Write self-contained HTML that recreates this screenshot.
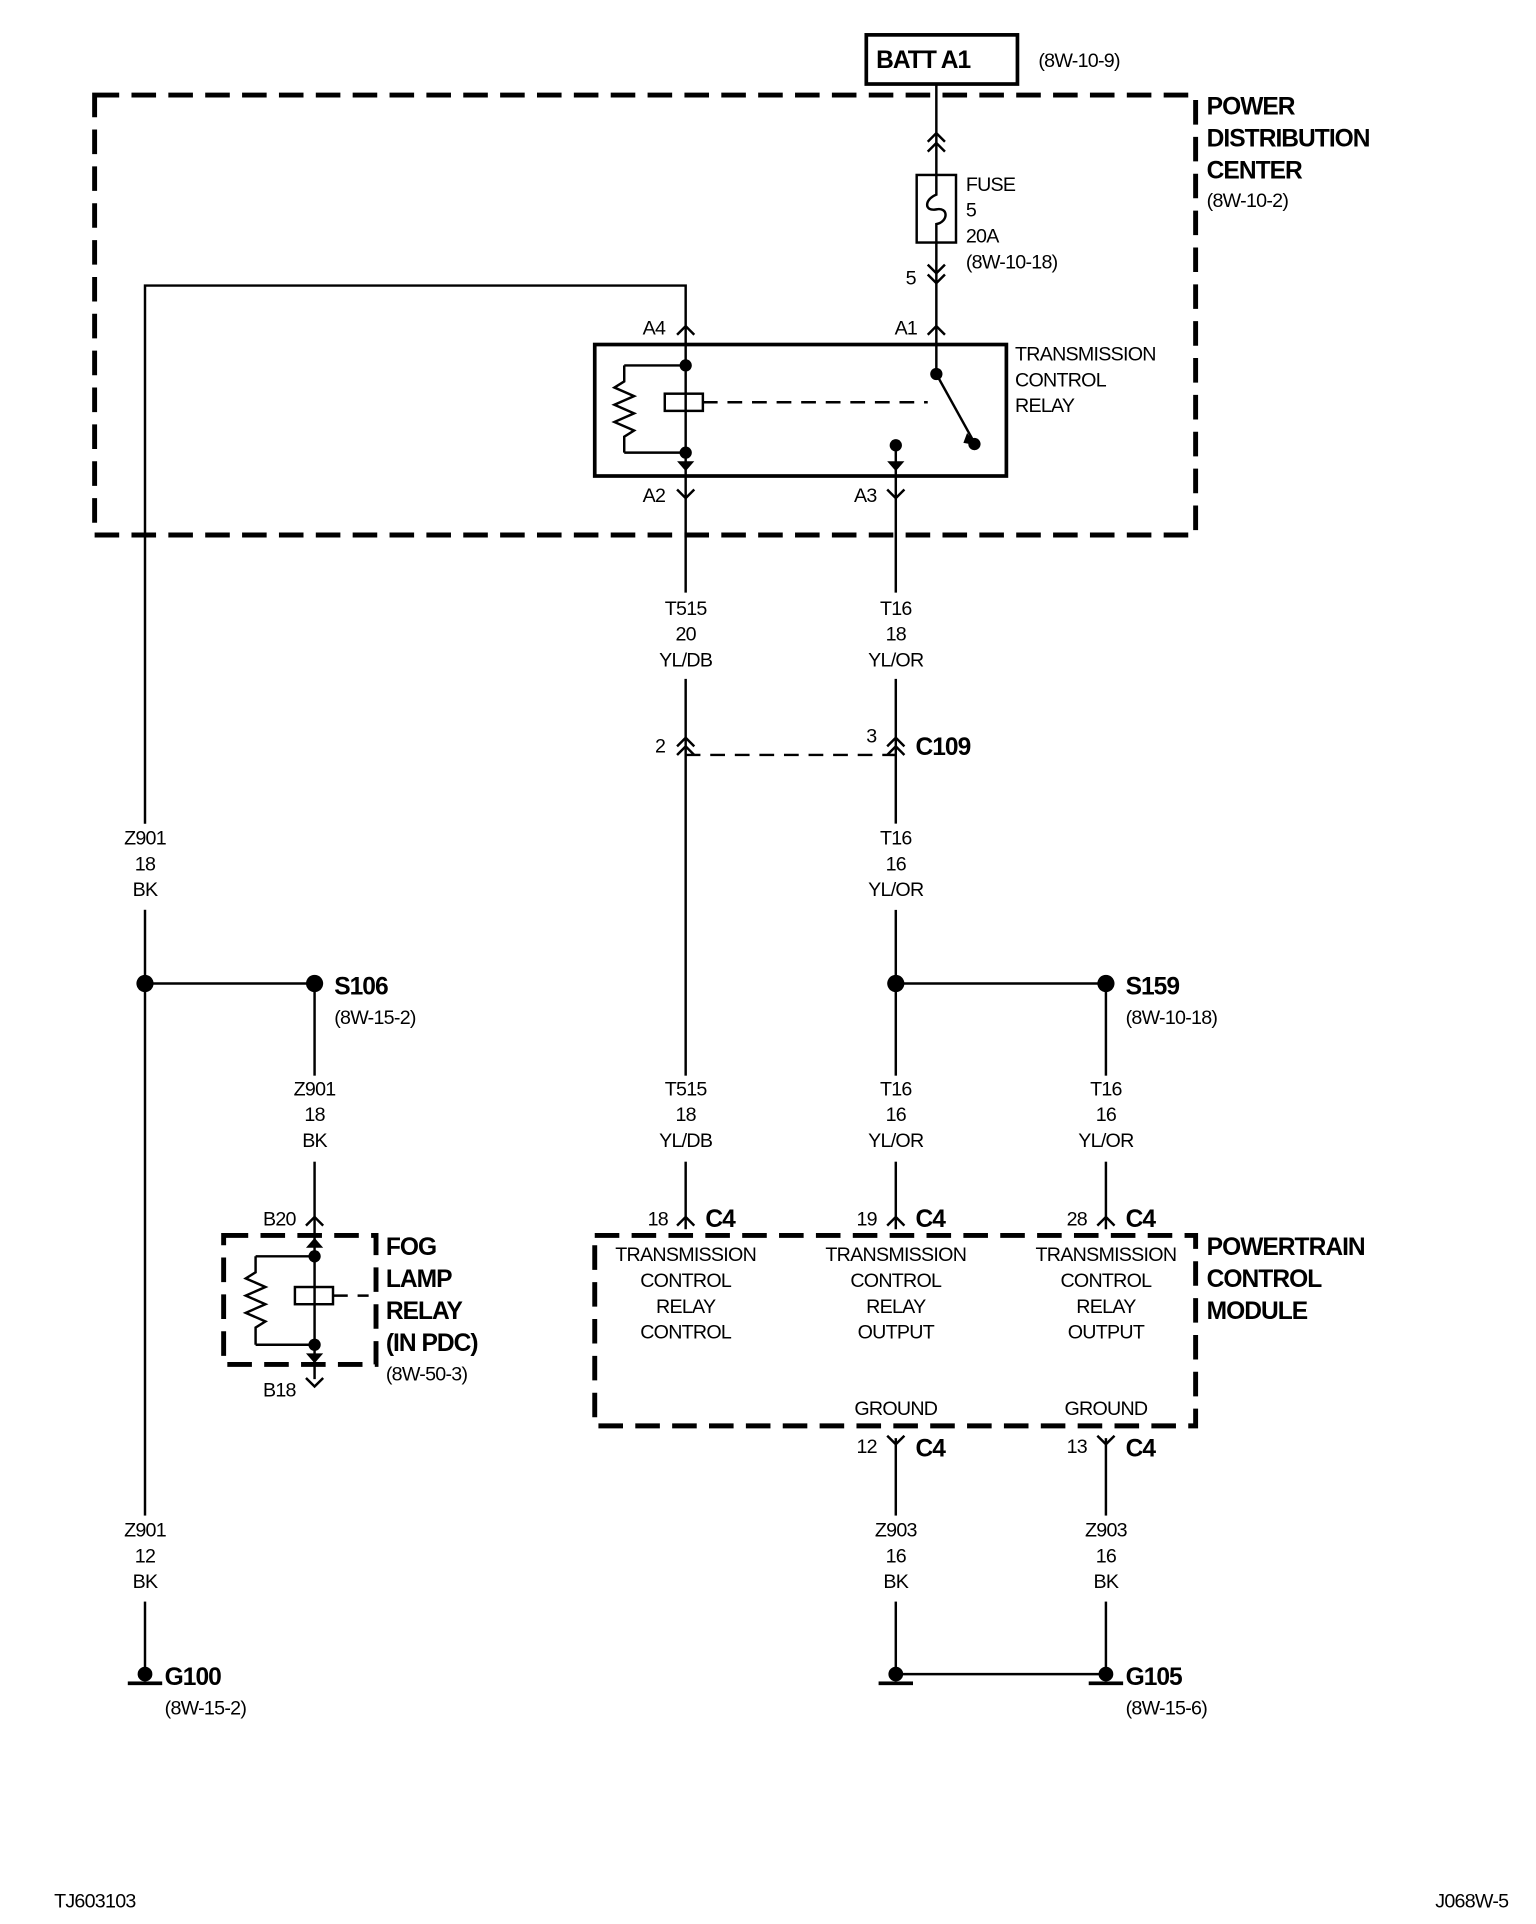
<!DOCTYPE html>
<html><head><meta charset="utf-8"><style>
html,body{margin:0;padding:0;background:#fff}
svg{display:block}
text{font-family:"Liberation Sans",Arial,sans-serif;fill:#000}
.s{font-size:16px;letter-spacing:-0.6px}
.b{font-size:20px;font-weight:bold;letter-spacing:-0.8px}
.c{text-anchor:middle}
</style></head><body>
<svg width="1536" height="1924" viewBox="0 0 1250 1565" xmlns="http://www.w3.org/2000/svg">
<defs>
<path id="up" d="M-7,7 L0,0 L7,7" fill="none" stroke="#000" stroke-width="2"/>
<path id="dn" d="M-7,-7 L0,0 L7,-7" fill="none" stroke="#000" stroke-width="2"/>
</defs>
<g fill="none" stroke="#000">
<rect x="705" y="28" width="123" height="40" stroke-width="3"/>
<rect x="77" y="77" width="896" height="358" stroke-width="4" stroke-dasharray="20,10"/>
<rect x="484" y="280" width="335" height="107" stroke-width="3"/>
<rect x="182" y="1005" width="124" height="105" stroke-width="4" stroke-dasharray="20,10"/>
<rect x="484" y="1005" width="489" height="155" stroke-width="4" stroke-dasharray="20,10"/>
<g stroke-width="2">
<path d="M762,68 V142 M762,197 V265 M762,265 V300"/>
<rect x="746" y="142" width="32" height="55"/>
<path d="M762,142 V158 C752,162 752,172 762,170 C772,168 772,180 762,182 V197"/>
<path d="M558,265 V232 H118 V1362"/>
<path d="M558,265 V398"/>
<path d="M508,297 H558 M508,368 H558 M508,297 V310 L500,315 L516,322 L500,329 L516,336 L500,343 L516,350 L508,355 V368"/>
<rect x="541" y="320" width="31" height="14"/>
<path d="M572,327 H755" stroke-dasharray="12,8"/>
<path d="M762,304 L793,360"/>
<path d="M729,362 V398"/>
<path d="M558,398 V482 M558,552 V1000 M729,398 V482 M729,552 V670 M729,740 V1000"/>
<path d="M118,800 H256 M729,800 H900 M256,800 V990 M900,800 V1000"/>
<path d="M729,1170 V1362 H900 V1170"/>
<path d="M256,990 V1122 M208,1022 H256 M208,1094 H256 M208,1022 V1035 L200,1040 L216,1047 L200,1054 L216,1061 L200,1068 L216,1075 L208,1080 V1094"/>
<rect x="240" y="1047" width="31" height="14"/>
<path d="M271,1054 H300" stroke-dasharray="12,8"/>
</g>
</g>
<g fill="#fff">
<rect x="540" y="482" width="40" height="70"/><rect x="710" y="482" width="40" height="70"/>
<rect x="710" y="670" width="40" height="70"/>
<rect x="95" y="670" width="45" height="70"/>
<rect x="235" y="875" width="45" height="70"/>
<rect x="535" y="875" width="45" height="70"/><rect x="705" y="875" width="45" height="70"/><rect x="880" y="875" width="45" height="70"/>
<rect x="95" y="1233" width="45" height="70"/><rect x="705" y="1233" width="45" height="70"/><rect x="880" y="1233" width="45" height="70"/>
</g>
<path d="M558,614 H729" stroke="#000" stroke-width="2" stroke-dasharray="12,8" fill="none"/>
<use href="#up" x="762" y="108"/><use href="#up" x="762" y="116"/>
<use href="#dn" x="762" y="222"/><use href="#dn" x="762" y="230"/>
<use href="#up" x="762" y="265"/><use href="#up" x="558" y="265"/>
<use href="#dn" x="558" y="405"/><use href="#dn" x="729" y="405"/>
<use href="#up" x="558" y="600"/><use href="#up" x="558" y="607"/>
<use href="#up" x="729" y="600"/><use href="#up" x="729" y="607"/>
<use href="#up" x="256" y="990"/><use href="#dn" x="256" y="1128"/>
<use href="#up" x="558" y="990"/><use href="#up" x="729" y="990"/><use href="#up" x="900" y="990"/>
<use href="#dn" x="729" y="1175"/><use href="#dn" x="900" y="1175"/>
<path d="M787,352 L795,362 L784,360Z"/>
<path d="M551,375 L558,383 L565,375Z M722,375 L729,383 L736,375Z M249,1101 L256,1109 L263,1101Z M249,1015 L256,1007 L263,1015Z"/>
<g>
<circle cx="558" cy="297" r="5"/><circle cx="558" cy="368" r="5"/>
<circle cx="762" cy="304" r="5"/><circle cx="793" cy="361" r="5"/><circle cx="729" cy="362" r="5"/>
<circle cx="256" cy="1022" r="5"/><circle cx="256" cy="1094" r="5"/>
<circle cx="118" cy="800" r="7"/><circle cx="256" cy="800" r="7"/>
<circle cx="729" cy="800" r="7"/><circle cx="900" cy="800" r="7"/>
<circle cx="118" cy="1362" r="6"/><circle cx="729" cy="1362" r="6"/><circle cx="900" cy="1362" r="6"/>
<rect x="104" y="1368" width="28" height="3"/><rect x="715" y="1368" width="28" height="3"/><rect x="886" y="1368" width="28" height="3"/>
</g>
<text x="713" y="55" class="b">BATT A1</text>
<text x="845" y="54" class="s">(8W-10-9)</text>
<text x="982" y="93" class="b">POWER</text><text x="982" y="119" class="b">DISTRIBUTION</text><text x="982" y="145" class="b">CENTER</text>
<text x="982" y="168" class="s">(8W-10-2)</text>
<text x="786" y="155" class="s">FUSE</text><text x="786" y="176" class="s">5</text><text x="786" y="197" class="s">20A</text><text x="786" y="218" class="s">(8W-10-18)</text>
<text x="737" y="231" class="s">5</text>
<text x="728" y="272" class="s">A1</text><text x="523" y="272" class="s">A4</text>
<text x="826" y="293" class="s">TRANSMISSION</text><text x="826" y="314" class="s">CONTROL</text><text x="826" y="335" class="s">RELAY</text>
<text x="523" y="408" class="s">A2</text><text x="695" y="408" class="s">A3</text>
<g class="s c">
<text x="558" y="500">T515</text><text x="558" y="521">20</text><text x="558" y="542">YL/DB</text>
<text x="729" y="500">T16</text><text x="729" y="521">18</text><text x="729" y="542">YL/OR</text>
<text x="729" y="687">T16</text><text x="729" y="708">16</text><text x="729" y="729">YL/OR</text>
<text x="118" y="687">Z901</text><text x="118" y="708">18</text><text x="118" y="729">BK</text>
<text x="256" y="891">Z901</text><text x="256" y="912">18</text><text x="256" y="933">BK</text>
<text x="558" y="891">T515</text><text x="558" y="912">18</text><text x="558" y="933">YL/DB</text>
<text x="729" y="891">T16</text><text x="729" y="912">16</text><text x="729" y="933">YL/OR</text>
<text x="900" y="891">T16</text><text x="900" y="912">16</text><text x="900" y="933">YL/OR</text>
<text x="558" y="1026">TRANSMISSION</text><text x="558" y="1047">CONTROL</text><text x="558" y="1068">RELAY</text><text x="558" y="1089">CONTROL</text>
<text x="729" y="1026">TRANSMISSION</text><text x="729" y="1047">CONTROL</text><text x="729" y="1068">RELAY</text><text x="729" y="1089">OUTPUT</text>
<text x="900" y="1026">TRANSMISSION</text><text x="900" y="1047">CONTROL</text><text x="900" y="1068">RELAY</text><text x="900" y="1089">OUTPUT</text>
<text x="729" y="1151">GROUND</text><text x="900" y="1151">GROUND</text>
<text x="118" y="1250">Z901</text><text x="118" y="1271">12</text><text x="118" y="1292">BK</text>
<text x="729" y="1250">Z903</text><text x="729" y="1271">16</text><text x="729" y="1292">BK</text>
<text x="900" y="1250">Z903</text><text x="900" y="1271">16</text><text x="900" y="1292">BK</text>
</g>
<text x="533" y="612" class="s">2</text><text x="705" y="604" class="s">3</text>
<text x="745" y="614" class="b">C109</text>
<text x="272" y="809" class="b">S106</text><text x="272" y="833" class="s">(8W-15-2)</text>
<text x="916" y="809" class="b">S159</text><text x="916" y="833" class="s">(8W-10-18)</text>
<text x="214" y="997" class="s">B20</text><text x="214" y="1136" class="s">B18</text>
<text x="314" y="1021" class="b">FOG</text><text x="314" y="1047" class="b">LAMP</text><text x="314" y="1073" class="b">RELAY</text><text x="314" y="1099" class="b">(IN PDC)</text>
<text x="314" y="1123" class="s">(8W-50-3)</text>
<text x="527" y="997" class="s">18</text><text x="574" y="998" class="b">C4</text>
<text x="697" y="997" class="s">19</text><text x="745" y="998" class="b">C4</text>
<text x="868" y="997" class="s">28</text><text x="916" y="998" class="b">C4</text>
<text x="982" y="1021" class="b">POWERTRAIN</text><text x="982" y="1047" class="b">CONTROL</text><text x="982" y="1073" class="b">MODULE</text>
<text x="697" y="1182" class="s">12</text><text x="745" y="1185" class="b">C4</text>
<text x="868" y="1182" class="s">13</text><text x="916" y="1185" class="b">C4</text>
<text x="134" y="1371" class="b">G100</text><text x="134" y="1395" class="s">(8W-15-2)</text>
<text x="916" y="1371" class="b">G105</text><text x="916" y="1395" class="s">(8W-15-6)</text>
<text x="44" y="1552" class="s">TJ603103</text>
<text x="1168" y="1552" class="s">J068W-5</text>
</svg>
</body></html>
